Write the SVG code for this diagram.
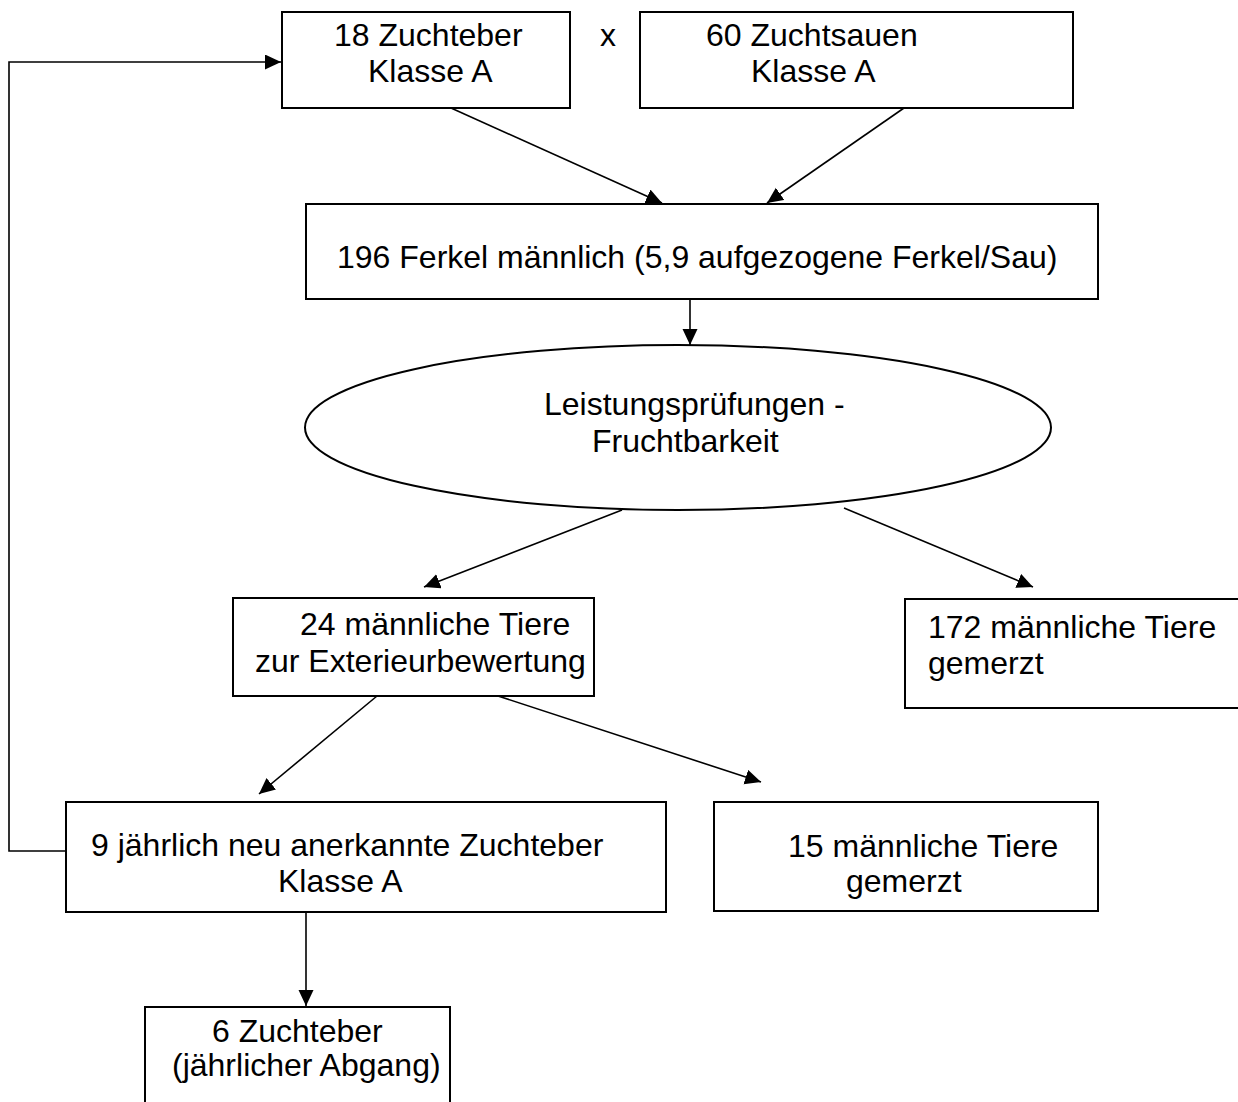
<svg xmlns="http://www.w3.org/2000/svg" width="1238" height="1102" viewBox="0 0 1238 1102">
<style>
.box{fill:#fff;stroke:#000;stroke-width:2}
.ln{fill:none;stroke:#000;stroke-width:1.6}
text{font-family:"Liberation Sans",Arial,sans-serif;font-size:32px;fill:#000}
</style>
<defs>
<marker id="ah" markerUnits="userSpaceOnUse" markerWidth="17" markerHeight="16" refX="16" refY="7.5" orient="auto">
<path d="M0,0 L16,7.5 L0,15 z" fill="#000"/>
</marker>
</defs>
<rect width="1238" height="1102" fill="#fff"/>
<g id="connectors">
<line class="ln" x1="451" y1="108" x2="662" y2="203" marker-end="url(#ah)"/>
<line class="ln" x1="904" y1="108" x2="767" y2="203" marker-end="url(#ah)"/>
<line class="ln" x1="690" y1="299" x2="690" y2="345" marker-end="url(#ah)"/>
<line class="ln" x1="622" y1="510" x2="424" y2="587" marker-end="url(#ah)"/>
<line class="ln" x1="844" y1="508" x2="1033" y2="587" marker-end="url(#ah)"/>
<line class="ln" x1="377" y1="696" x2="259" y2="794" marker-end="url(#ah)"/>
<line class="ln" x1="498" y1="696" x2="761" y2="782" marker-end="url(#ah)"/>
<line class="ln" x1="306" y1="912" x2="306" y2="1006" marker-end="url(#ah)"/>
<polyline class="ln" points="66,851 9,851 9,62 281,62" marker-end="url(#ah)"/>
</g>
<g id="n1"><rect class="box" x="282" y="12" width="288" height="96"/>
<text x="334" y="46">18 Zuchteber</text><text x="368" y="82">Klasse A</text></g>
<g id="cross"><text x="600" y="46">x</text></g>
<g id="n2"><rect class="box" x="640" y="12" width="433" height="96"/>
<text x="706" y="46">60 Zuchtsauen</text><text x="751" y="82">Klasse A</text></g>
<g id="n3"><rect class="box" x="306" y="204" width="792" height="95"/>
<text x="337" y="268">196 Ferkel männlich (5,9 aufgezogene Ferkel/Sau)</text></g>
<g id="n4"><ellipse class="box" cx="678" cy="427.5" rx="373" ry="82.5"/>
<text x="544" y="415">Leistungsprüfungen -</text><text x="592" y="452">Fruchtbarkeit</text></g>
<g id="n5"><rect class="box" x="233" y="598" width="361" height="98"/>
<text x="300" y="635">24 männliche Tiere</text><text x="255" y="672">zur Exterieurbewertung</text></g>
<g id="n6"><rect class="box" x="905" y="599" width="340" height="109"/>
<text x="928" y="638">172 männliche Tiere</text><text x="928" y="674">gemerzt</text></g>
<g id="n7"><rect class="box" x="66" y="802" width="600" height="110"/>
<text x="91" y="856">9 jährlich neu anerkannte Zuchteber</text><text x="278" y="892">Klasse A</text></g>
<g id="n8"><rect class="box" x="714" y="802" width="384" height="109"/>
<text x="788" y="857">15 männliche Tiere</text><text x="846" y="892">gemerzt</text></g>
<g id="n9"><rect class="box" x="145" y="1007" width="305" height="110"/>
<text x="212" y="1042">6 Zuchteber</text><text x="172" y="1076">(jährlicher Abgang)</text></g>
</svg>
